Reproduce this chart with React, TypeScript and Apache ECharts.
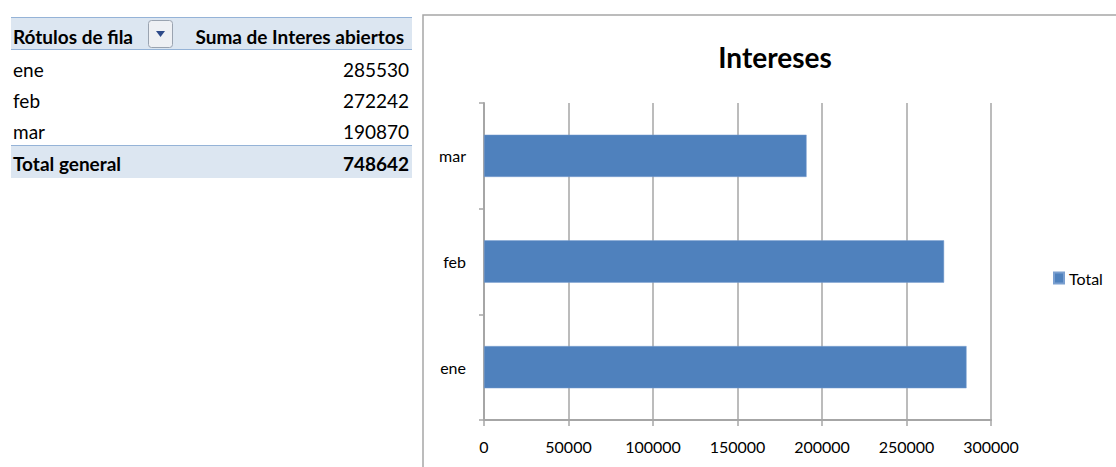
import React, { useEffect, useRef } from "react";
import * as echarts from "echarts";

const categories = ["ene", "feb", "mar"];
const values = [285530, 272242, 190870];
const totalValue = 748642;
const xTicks = [0, 50000, 100000, 150000, 200000, 250000, 300000];
const seriesName = "Total";
const tableHeaders = ["Rótulos de fila", "Suma de Interes abiertos"];
const totalLabel = "Total general";
const titleText = "Intereses";

const FONT = "Lato, 'Open Sans', sans-serif";
const TF = 19;

export default function App() {
  const ref = useRef<HTMLDivElement>(null);
  useEffect(() => {
    if (!ref.current) return;
    const chart = echarts.init(ref.current, undefined, { renderer: "svg" });

    const rowYs = [69, 100, 131];
    const tableGraphics: any[] = [
      // header background & borders
      { type: "rect", shape: { x: 11, y: 17, width: 401, height: 32 }, style: { fill: "#dce6f1" }, z: 1 },
      { type: "line", shape: { x1: 11, y1: 17.5, x2: 412, y2: 17.5 }, style: { stroke: "#95b3d7", lineWidth: 1 }, z: 2 },
      { type: "line", shape: { x1: 11, y1: 49.5, x2: 412, y2: 49.5 }, style: { stroke: "#95b3d7", lineWidth: 1 }, z: 2 },
      { type: "text", x: 13, y: 36, style: { text: tableHeaders[0], font: `bold ${TF}px ${FONT}`, fill: "#000", textAlign: "left", textVerticalAlign: "middle" }, z: 3 },
      { type: "rect", shape: { x: 148.5, y: 20.5, width: 24, height: 27, r: 3 }, style: { fill: "#eef0f4", stroke: "#9aa3b0", lineWidth: 1 }, z: 3 },
      { type: "polygon", shape: { points: [[156, 31], [165, 31], [160.5, 37]] }, style: { fill: "#2e4a8a" }, z: 4 },
      { type: "text", x: 404, y: 36, style: { text: tableHeaders[1], font: `bold ${TF}px ${FONT}`, fill: "#000", textAlign: "right", textVerticalAlign: "middle" }, z: 3 },
      // total row
      { type: "rect", shape: { x: 11, y: 146, width: 401, height: 32 }, style: { fill: "#dce6f1" }, z: 1 },
      { type: "line", shape: { x1: 11, y1: 145.5, x2: 412, y2: 145.5 }, style: { stroke: "#95b3d7", lineWidth: 1 }, z: 2 },
      { type: "text", x: 13, y: 163, style: { text: totalLabel, font: `bold ${TF}px ${FONT}`, fill: "#000", textAlign: "left", textVerticalAlign: "middle" }, z: 3 },
      { type: "text", x: 409, y: 163, style: { text: String(totalValue), font: `bold ${TF}px ${FONT}`, fill: "#000", textAlign: "right", textVerticalAlign: "middle" }, z: 3 },
      // chart frame
      { type: "rect", shape: { x: 423, y: 15, width: 800, height: 600 }, style: { fill: "none", stroke: "#a6a6a6", lineWidth: 1.5 }, z: 0 },
      // title
      { type: "text", x: 775, y: 57, style: { text: titleText, font: `bold 28px ${FONT}`, fill: "#000", textAlign: "center", textVerticalAlign: "middle" }, z: 3 },
    ];
    categories.forEach((c, i) => {
      tableGraphics.push({ type: "text", x: 13, y: rowYs[i], style: { text: c, font: `${TF}px ${FONT}`, fill: "#000", textAlign: "left", textVerticalAlign: "middle" }, z: 3 });
      tableGraphics.push({ type: "text", x: 409, y: rowYs[i], style: { text: String(values[i]), font: `${TF}px ${FONT}`, fill: "#000", textAlign: "right", textVerticalAlign: "middle" }, z: 3 });
    });

    chart.setOption({
      animation: false,
      backgroundColor: "#ffffff",
      textStyle: { fontFamily: FONT },
      graphic: tableGraphics,
      grid: { left: 484, top: 103, width: 507, height: 317, containLabel: false },
      legend: {
        data: [seriesName],
        left: 1053,
        top: 270,
        padding: 0,
        icon: "rect",
        itemWidth: 10,
        itemHeight: 11,
        textStyle: { fontSize: 16, color: "#000", fontFamily: FONT },
      },
      xAxis: {
        type: "value",
        min: xTicks[0],
        max: xTicks[xTicks.length - 1],
        interval: xTicks[1] - xTicks[0],
        axisLine: { show: true, lineStyle: { color: "#a6a6a6", width: 2 } },
        axisTick: { show: true, length: 6, lineStyle: { color: "#a6a6a6", width: 1.5 } },
        splitLine: { show: true, lineStyle: { color: "#a6a6a6", width: 1.5 } },
        axisLabel: { fontSize: 16, color: "#000", margin: 18, fontFamily: FONT, formatter: (v: number) => String(v) },
      },
      yAxis: {
        type: "category",
        data: categories,
        axisLine: { show: true, lineStyle: { color: "#a6a6a6", width: 2 } },
        axisTick: { show: true, length: 5, lineStyle: { color: "#a6a6a6", width: 1.5 } },
        splitLine: { show: false },
        axisLabel: { fontSize: 16, color: "#000", margin: 18, fontFamily: FONT },
      },
      series: [
        {
          name: seriesName,
          type: "bar",
          data: values,
          barCategoryGap: "60%",
          itemStyle: { color: "#4f81bd", borderColor: "#7a9fd0", borderWidth: 0.5 },
        },
      ],
    });
    return () => chart.dispose();
  }, []);
  return (
    <div
      ref={ref}
      style={{ position: "fixed", left: 0, top: 0, width: 1116, height: 467 }}
    />
  );
}
